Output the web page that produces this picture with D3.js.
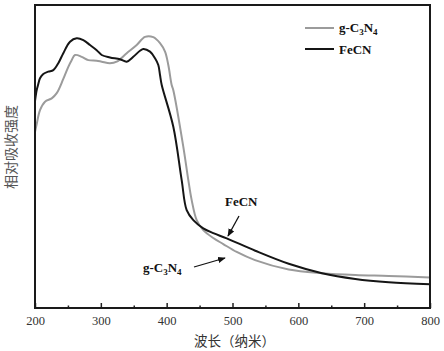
<!DOCTYPE html>
<html>
<head>
<meta charset="utf-8">
<script src="https://cdn.jsdelivr.net/npm/d3@7"></script>
<style>
  body { margin: 0; background: #fff; }
  svg { display: block; }
  .tick-label { font-family: "Liberation Serif", serif; font-size: 12.5px; fill: #333; }
  .ann { font-family: "Liberation Serif", serif; font-size: 13px; font-weight: bold; fill: #111; }
</style>
</head>
<body>
<div id="chart"></div>
<script>
// wavelength (nm) / relative absorbance (a.u.)
const fecnWl = [200, 202.6, 205, 207.6, 212.6, 220.2, 227.8, 235.4, 243, 253.2, 263.3, 273.4, 283.5, 293.7, 301.3, 313.9, 329.1, 339.3, 349.3, 359.5, 364.5, 374.7, 382.3, 387.3, 389.9, 392.5, 410.1, 422.8, 430.4, 440.5, 455.6, 470.8, 491.2, 534.6, 585.4, 636, 686.5, 737.3, 800];
const fecnAbs = [68.3, 71.9, 73.9, 75.8, 77.2, 78.0, 78.5, 80.8, 84.1, 87.9, 89.0, 88.4, 86.8, 85.1, 83.5, 82.7, 82.1, 81.3, 82.9, 84.9, 85.5, 84.6, 82.4, 80.2, 76.9, 73.6, 59.8, 42.2, 32.3, 29.0, 26.3, 24.7, 23.0, 18.9, 14.6, 11.5, 9.6, 8.5, 7.8];

const gcnWl = [200, 202.6, 207.6, 215.2, 225.4, 233, 243, 250.6, 255.7, 260.8, 270.9, 281, 293.7, 301.3, 313.9, 324.1, 339.3, 354.5, 367.1, 379.7, 389.9, 397.5, 402.5, 407.6, 410.1, 425.3, 432.9, 438, 445.6, 455.6, 470.8, 486, 506.4, 534.2, 585.4, 636, 686.5, 737.3, 800];
const gcnAbs = [58.1, 60.7, 65.3, 68.1, 69.2, 70.9, 75.6, 79.6, 81.8, 83.5, 82.9, 81.8, 81.6, 81.3, 80.8, 81.3, 84.1, 86.8, 89.5, 89.4, 87.4, 84.6, 80.2, 73.6, 71.9, 53.2, 42.2, 35.6, 29.0, 25.7, 23.1, 21.1, 18.5, 15.8, 12.7, 11.5, 10.9, 10.6, 10.1];

const xTicks = [200, 300, 400, 500, 600, 700, 800];
const xMinorTicks = [250, 350, 450, 550, 650, 750];

const W = 444, H = 351;
const margin = { top: 5, right: 14, bottom: 43, left: 35 };
const width = W - margin.left - margin.right;
const height = H - margin.top - margin.bottom;

const svg = d3.select('#chart')
    .append('svg')
    .attr('width', W)
    .attr('height', H);

const g = svg.append('g')
    .attr('transform', `translate(${margin.left},${margin.top})`);

const xScale = d3.scaleLinear().domain([200, 800]).range([0, width]);
const yScale = d3.scaleLinear().domain([0, 100]).range([height, 0]);

// curves
const line = d3.line()
    .x(d => xScale(d[0]))
    .y(d => yScale(d[1]))
    .curve(d3.curveCatmullRom.alpha(0.5));

const gcn = gcnWl.map((w, i) => [w, gcnAbs[i]]);
const fecn = fecnWl.map((w, i) => [w, fecnAbs[i]]);

g.append('path').datum(gcn)
    .attr('d', line)
    .attr('fill', 'none')
    .attr('stroke', '#9b9b9b')
    .attr('stroke-width', 2);

g.append('path').datum(fecn)
    .attr('d', line)
    .attr('fill', 'none')
    .attr('stroke', '#151515')
    .attr('stroke-width', 2);

// bottom axis, ticks inward
const xAxis = g.append('g')
    .attr('transform', `translate(0,${height})`)
    .call(d3.axisBottom(xScale).tickValues(xTicks).tickSizeInner(-5).tickSizeOuter(0).tickPadding(8));
xAxis.select('.domain').remove();
xAxis.selectAll('line').attr('stroke', '#222').attr('stroke-width', 1.5);
xAxis.selectAll('text').attr('class', 'tick-label').attr('font-family', null).attr('font-size', null).attr('fill', null);

const xMinor = g.append('g')
    .attr('transform', `translate(0,${height})`)
    .call(d3.axisBottom(xScale).tickValues(xMinorTicks).tickSizeInner(-2.5).tickSizeOuter(0).tickFormat(''));
xMinor.select('.domain').remove();
xMinor.selectAll('line').attr('stroke', '#222').attr('stroke-width', 1.5);

// frame
g.append('rect')
    .attr('width', width)
    .attr('height', height)
    .attr('fill', 'none')
    .attr('stroke', '#1a1a1a')
    .attr('stroke-width', 2);

// axis titles
svg.append('text')
    .attr('x', margin.left + width / 2 + 2)
    .attr('y', 346)
    .attr('text-anchor', 'middle')
    .style('font-family', '"Noto Sans CJK SC", sans-serif')
    .style('font-size', '13.5px')
    .style('fill', '#333')
    .text('波长（纳米）');

svg.append('text')
    .attr('text-anchor', 'middle')
    .attr('transform', `translate(16,147) rotate(-90)`)
    .style('font-family', '"Noto Sans CJK SC", sans-serif')
    .style('font-size', '14px')
    .style('fill', '#555')
    .text('相对吸收强度');

// legend
function gcnLabel(sel, x, y) {
    const t = sel.append('text').attr('class', 'ann').attr('x', x).attr('y', y);
    t.append('tspan').text('g-C');
    t.append('tspan').attr('dy', 3).style('font-size', '9px').text('3');
    t.append('tspan').attr('dy', -3).text('N');
    t.append('tspan').attr('dy', 3).style('font-size', '9px').text('4');
    return t;
}

const legend = svg.append('g');
legend.append('line').attr('x1', 305).attr('x2', 334).attr('y1', 28).attr('y2', 28)
    .attr('stroke', '#9b9b9b').attr('stroke-width', 2);
gcnLabel(legend, 339, 32);
legend.append('line').attr('x1', 305).attr('x2', 334).attr('y1', 49).attr('y2', 49)
    .attr('stroke', '#151515').attr('stroke-width', 2);
legend.append('text').attr('class', 'ann').attr('x', 339).attr('y', 54).text('FeCN');

// annotations with arrows
svg.append('defs').append('marker')
    .attr('id', 'arrow')
    .attr('viewBox', '0 0 10 10')
    .attr('refX', 9).attr('refY', 5)
    .attr('markerWidth', 6).attr('markerHeight', 6)
    .attr('orient', 'auto')
    .append('path').attr('d', 'M0,1 L10,5 L0,9 Z').attr('fill', '#111');

svg.append('text').attr('class', 'ann').attr('x', 225).attr('y', 206).text('FeCN');
svg.append('line')
    .attr('x1', 239).attr('y1', 216).attr('x2', 228).attr('y2', 236)
    .attr('stroke', '#111').attr('stroke-width', 1.3)
    .attr('marker-end', 'url(#arrow)');

gcnLabel(svg, 143, 272);
svg.append('line')
    .attr('x1', 194).attr('y1', 267).attr('x2', 225).attr('y2', 258)
    .attr('stroke', '#111').attr('stroke-width', 1.3)
    .attr('marker-end', 'url(#arrow)');
</script>
</body>
</html>
